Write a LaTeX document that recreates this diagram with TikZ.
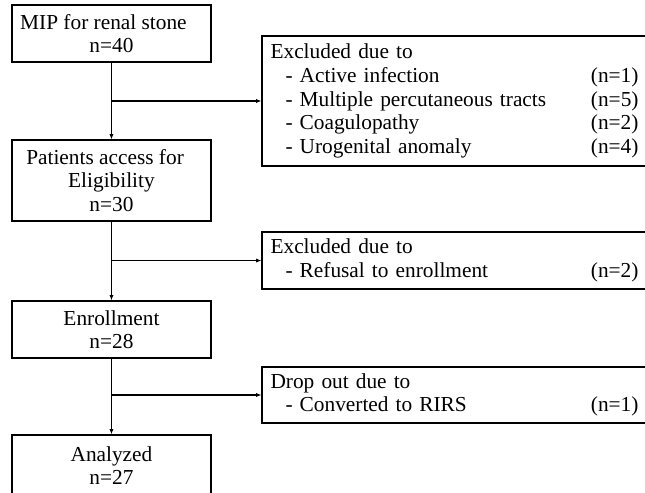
\documentclass[tikz,border=0pt]{standalone}
\usepackage{fontspec}
\setmainfont{Liberation Serif}
\usetikzlibrary{arrows.meta}
\tikzset{>={Latex[length=4pt,width=3.2pt]}}
\setlength{\parindent}{0pt}

\tikzset{
  stage/.style={draw, line width=0.9pt, minimum width=149.25pt, inner sep=0pt,
    align=center, font=\fontsize{16}{17.5}\selectfont},
  reason/.style={draw, line width=0.9pt, text width=275.95pt, inner xsep=6.4pt,
    inner ysep=0pt, align=left, font=\fontsize{16}{17.8}\selectfont},
  flow/.style={->, line width=0.9pt},
}
% one line of a side box: reason on the left, count on the right
\newcommand{\exitem}[2]{\makebox[\hsize][l]{\hspace*{0.7em}- #1\hfill(n=#2)}}

\begin{document}
\begin{tikzpicture}
		% the page frame, it cuts the side boxes and the last box
		\clip (0,0) rectangle (483.75pt,369pt);

		% the stages on the left
		\node[stage, minimum height=42.75pt] (mip) at (83.6pt,343.9pt)
			{MIP for renal stone\hspace*{0.75em}\\n=40};
		\node[stage, minimum height=60.75pt] (elig) at (83.6pt,233.6pt)
			{Patients access for\hspace*{0.6em}\\Eligibility\\n=30};
		\node[stage, minimum height=42.75pt] (enrol) at (83.6pt,121.9pt)
			{Enrollment\\n=28};
		\node[stage, minimum height=46pt] (anal) at (83.6pt,19.75pt)
			{Analyzed\\n=27};

		% the boxes on the right
		\node[reason, minimum height=97.5pt] (excl1) at (340.9pt,293.25pt)
			{Excluded due to\\
			\exitem{Active infection}{1}\\
			\exitem{Multiple percutaneous tracts}{5}\\
			\exitem{Coagulopathy}{2}\\
			\exitem{Urogenital anomaly}{4}};
		\node[reason, minimum height=42.75pt] (excl2) at (340.9pt,173.6pt)
			{Excluded due to\\
			\exitem{Refusal to enrollment}{2}};
		\node[reason, minimum height=42pt] (drop) at (340.9pt,72.75pt)
			{Drop out due to\\
			\exitem{Converted to RIRS}{1}};

		% the connectors
		\draw[flow] (mip) -- (elig);
		\draw[flow] (elig) -- (enrol);
		\draw[flow] (enrol) -- (anal);
		\draw[flow] (mip.south |- excl1.west) -- (excl1.west);
		\draw[flow] (elig.south |- excl2.west) -- (excl2.west);
		\draw[flow] (enrol.south |- drop.west) -- (drop.west);

	\end{tikzpicture}
\end{document}
